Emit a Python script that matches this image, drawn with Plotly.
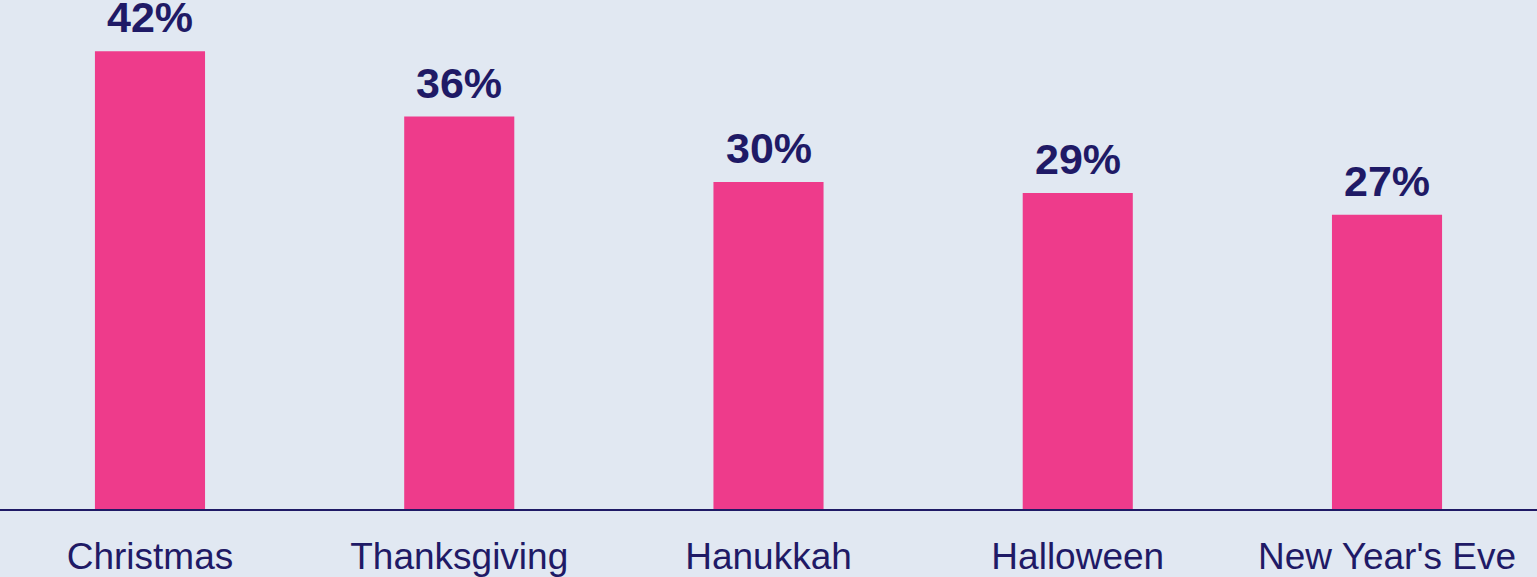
import plotly.graph_objects as go

categories = ["Christmas", "Thanksgiving", "Hanukkah", "Halloween", "New Year's Eve"]
values = [42, 36, 30, 29, 27]
labels = ["42%", "36%", "30%", "29%", "27%"]

BG = "#E1E8F2"
PINK = "#EE3B8B"
NAVY = "#1F1A66"
FONT = "Arial, Liberation Sans, sans-serif"

fig = go.Figure(go.Bar(
    x=categories, y=values, width=0.356,
    marker=dict(color=PINK, line=dict(width=0)),
    hoverinfo="skip",
))

for c, v, t in zip(categories, values, labels):
    fig.add_annotation(x=c, y=v, text=t, showarrow=False, yanchor="bottom",
                       yshift=8, font=dict(family=FONT, size=43, color=NAVY, weight="bold"))

fig.update_layout(
    width=1537, height=577,
    margin=dict(l=0, r=0, t=0, b=65),
    paper_bgcolor=BG, plot_bgcolor=BG,
    showlegend=False,
    font=dict(family=FONT, color=NAVY),
    xaxis=dict(range=[-0.485, 4.485], showgrid=False, zeroline=False,
               showline=True, linecolor=NAVY, linewidth=2,
               tickfont=dict(family=FONT, size=37, color=NAVY),
               ticks="", ticklabelstandoff=14, fixedrange=True),
    yaxis=dict(range=[0, 46.7], visible=False, fixedrange=True),
)

fig.write_html("out.html", config={"displayModeBar": False},
               post_script="document.body.style.margin='0';document.body.style.overflow='hidden';")
